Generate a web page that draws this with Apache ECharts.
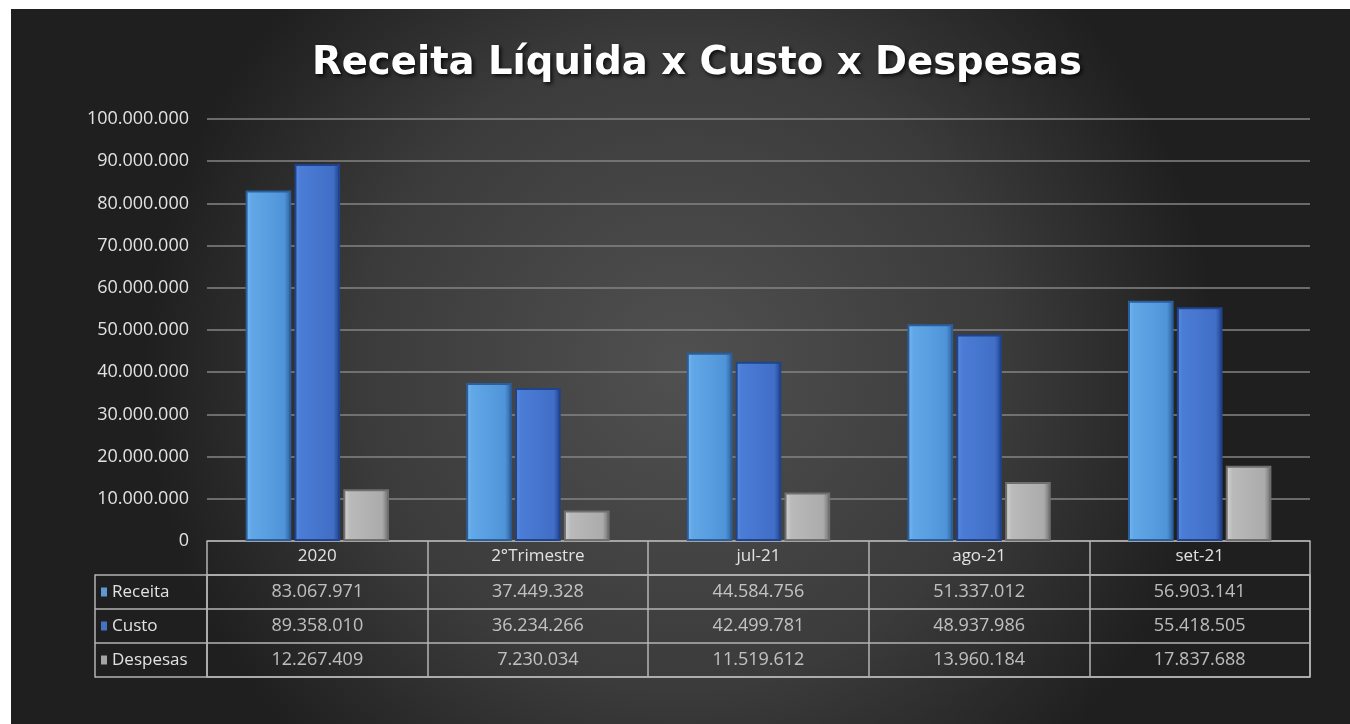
<!DOCTYPE html>
<html>
<head>
<meta charset="utf-8">
<script src="https://cdn.jsdelivr.net/npm/echarts@6/dist/echarts.min.js"></script>
<style>
  html, body { margin: 0; padding: 0; background: #fff; }
  #chart { position: absolute; left: 11px; top: 9px; width: 1339px; height: 715px; }
</style>
</head>
<body>
<div id="chart"></div>
<script>
const categories = ['2020', '2°Trimestre', 'jul-21', 'ago-21', 'set-21']
const receita = [83067971, 37449328, 44584756, 51337012, 56903141]
const custo = [89358010, 36234266, 42499781, 48937986, 55418505]
const despesas = [12267409, 7230034, 11519612, 13960184, 17837688]
const rowNames = ['Receita', 'Custo', 'Despesas']

const fmt = v => String(Math.round(v)).replace(/\B(?=(\d{3})+(?!\d))/g, '.')

const font = '"Open Sans", sans-serif'
const textColor = '#e2e2e2'
const tableLine = '#b4b4b4'
const labelSize = 18

const grad = stops => ({
  type: 'linear', x: 0, y: 0, x2: 1, y2: 0,
  colorStops: stops.map(s => ({ offset: s[0], color: s[1] }))
})

const seriesDefs = [
  {
    name: 'Receita', data: receita, key: 'r',
    fill: grad([[0, '#7cbbf1'], [0.12, '#62a8e8'], [0.85, '#4f94d8'], [1, '#2b5e98']]),
    border: '#2a5f9c', swatch: '#5b9bd5'
  },
  {
    name: 'Custo', data: custo, key: 'c',
    fill: grad([[0, '#5d8fe2'], [0.12, '#4b7dd6'], [0.85, '#416ec6'], [1, '#1f3f86']]),
    border: '#1f438c', swatch: '#4472c4'
  },
  {
    name: 'Despesas', data: despesas, key: 'd',
    fill: grad([[0, '#d6d6d6'], [0.15, '#bababa'], [0.85, '#ababab'], [1, '#6a6a6a']]),
    border: '#6f6f6f', swatch: '#a5a5a5'
  }
]

const barSeries = seriesDefs.map(s => ({
  name: s.name,
  type: 'bar',
  xAxisIndex: 0,
  yAxisIndex: 0,
  data: s.data,
  barGap: '7%',
  barCategoryGap: '35%',
  itemStyle: {
    color: s.fill,
    borderColor: s.border,
    borderWidth: 2
  }
}))

// data table cells
const cellData = []
seriesDefs.forEach((s, ri) => {
  s.data.forEach((v, ci) => cellData.push([ci, ri, v]))
})

const richLabels = {}
seriesDefs.forEach(s => {
  richLabels[s.key] = { width: 6, height: 9, backgroundColor: s.swatch }
})
richLabels.t = { color: textColor, fontSize: 17, fontFamily: font, padding: [0, 0, 0, 5] }

const chart = echarts.init(document.getElementById('chart'))

const option = {
  backgroundColor: {
    type: 'radial', x: 0.5, y: 0.5, r: 0.75,
    colorStops: [
      { offset: 0, color: '#505050' },
      { offset: 0.6, color: '#3b3b3b' },
      { offset: 1, color: '#1f1f1f' }
    ]
  },
  title: {
    text: 'Receita Líquida x Custo x Despesas',
    left: 296,
    top: 30,
    textStyle: {
      color: '#ffffff',
      fontFamily: '"DejaVu Sans", sans-serif',
      fontWeight: 'bold',
      fontSize: 38.6,
      textShadowColor: 'rgba(0,0,0,0.85)',
      textShadowBlur: 4,
      textShadowOffsetX: 2,
      textShadowOffsetY: 2
    }
  },
  grid: [
    { left: 196, right: 40, top: 110, bottom: 183 },
    { left: 196, right: 40, top: 566, bottom: 47, show: true, borderColor: tableLine, borderWidth: 1.5 }
  ],
  xAxis: [
    {
      type: 'category',
      gridIndex: 0,
      data: categories,
      axisLine: { show: true, lineStyle: { color: tableLine, width: 1.5 } },
      axisTick: { show: true, length: 34, lineStyle: { color: tableLine, width: 1.5 } },
      axisLabel: { color: textColor, fontSize: 17, fontFamily: font, margin: 7 }
    },
    {
      type: 'category',
      gridIndex: 1,
      data: categories,
      axisLine: { show: false },
      axisTick: { show: false },
      axisLabel: { show: false },
      splitLine: { show: true, lineStyle: { color: tableLine, width: 1.5 } }
    }
  ],
  yAxis: [
    {
      type: 'value',
      gridIndex: 0,
      min: 0,
      max: 100000000,
      interval: 10000000,
      axisLine: { show: false },
      axisTick: { show: false },
      axisLabel: { color: textColor, fontSize: labelSize, fontFamily: font, margin: 18, formatter: v => fmt(v) },
      splitLine: { lineStyle: { color: '#858585', width: 1.5 } }
    },
    {
      type: 'category',
      gridIndex: 1,
      inverse: true,
      data: rowNames,
      axisLine: { show: false },
      axisTick: { show: true, length: 112, lineStyle: { color: tableLine, width: 1.5 } },
      axisLabel: {
        align: 'left',
        margin: 106,
        formatter: (v, i) => '{' + seriesDefs[i].key + '|}{t|' + v + '}',
        rich: richLabels
      },
      splitLine: { show: true, lineStyle: { color: tableLine, width: 1.5 } }
    },
    {
      type: 'category',
      gridIndex: 1,
      position: 'left',
      offset: 112,
      data: rowNames,
      axisLine: { show: true, lineStyle: { color: tableLine, width: 1.5 } },
      axisTick: { show: false },
      axisLabel: { show: false }
    }
  ],
  series: [
    ...barSeries,
    {
      type: 'scatter',
      xAxisIndex: 1,
      yAxisIndex: 1,
      data: cellData,
      symbolSize: 1,
      itemStyle: { color: 'rgba(0,0,0,0)' },
      label: {
        show: true,
        position: 'inside',
        color: textColor,
        fontSize: labelSize,
        fontFamily: font,
        formatter: p => fmt(p.value[2])
      },
      silent: true
    }
  ]
}

chart.setOption(option)
window.addEventListener('resize', () => chart.resize())
</script>
</body>
</html>
